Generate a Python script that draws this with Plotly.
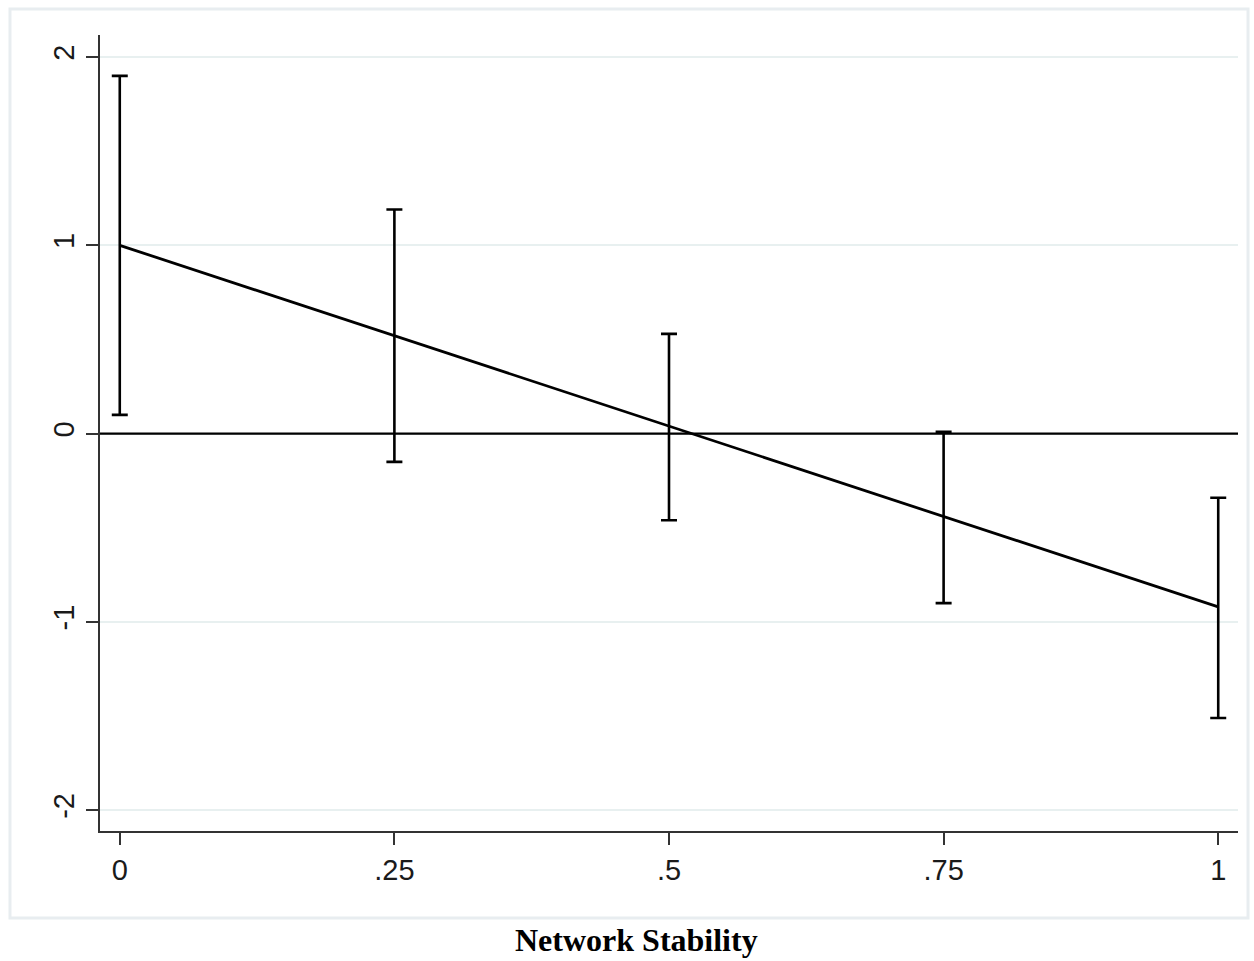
import plotly.graph_objects as go

x_vals = [0, 0.25, 0.5, 0.75, 1]
x_labels = ["0", ".25", ".5", ".75", "1"]
y_point = [1.0, 0.52, 0.04, -0.44, -0.92]
y_upper = [1.90, 1.19, 0.53, 0.01, -0.34]
y_lower = [0.10, -0.15, -0.46, -0.90, -1.51]
y_ticks = [-2, -1, 0, 1, 2]
x_title = "Network Stability"

err_plus = [u - p for u, p in zip(y_upper, y_point)]
err_minus = [p - l for p, l in zip(y_point, y_lower)]

fig = go.Figure()
fig.add_trace(go.Scatter(
    x=x_vals, y=y_point, mode="lines",
    line=dict(color="black", width=2.8),
    error_y=dict(type="data", symmetric=False, array=err_plus, arrayminus=err_minus,
                 color="black", thickness=2.6, width=8),
    showlegend=False, hoverinfo="skip",
))

fig.add_shape(type="line", xref="x", yref="y", x0=-0.018, x1=1.018, y0=0, y1=0,
              line=dict(color="black", width=2.4))
fig.add_shape(type="rect", xref="paper", yref="paper",
              x0=-0.0791, x1=1.0088, y0=-0.1093, y1=1.0327,
              line=dict(color="#e8edf0", width=3), layer="below")

fig.add_annotation(text="<b>" + x_title + "</b>", xref="paper", yref="paper",
                   x=0.4714, y=-0.137, xanchor="center", yanchor="middle", showarrow=False,
                   font=dict(family="Liberation Serif", size=32, color="black"))

fig.update_layout(
    width=1254, height=961,
    margin=dict(l=100, r=16, t=35, b=130),
    paper_bgcolor="white", plot_bgcolor="white",
    font=dict(family="Liberation Sans", size=29, color="#1a1a1a"),
)
fig.update_xaxes(
    range=[-0.018, 1.018], tickvals=x_vals, ticktext=x_labels,
    showgrid=False, zeroline=False, showline=True, linecolor="#333333", linewidth=2.4,
    ticks="outside", ticklen=12, tickwidth=2.4, tickcolor="#333333",
)
fig.update_yaxes(
    range=[-2.11, 2.117], tickvals=y_ticks, ticktext=[str(t) for t in y_ticks],
    tickangle=-90,
    showgrid=True, gridcolor="#e8f0f0", gridwidth=2, zeroline=False,
    showline=True, linecolor="#333333", linewidth=2.4,
    ticks="outside", ticklen=12, tickwidth=2.4, tickcolor="#333333",
)

fig.write_html("out.html", config={"displayModeBar": False},
               post_script="document.body.style.margin='0';")
